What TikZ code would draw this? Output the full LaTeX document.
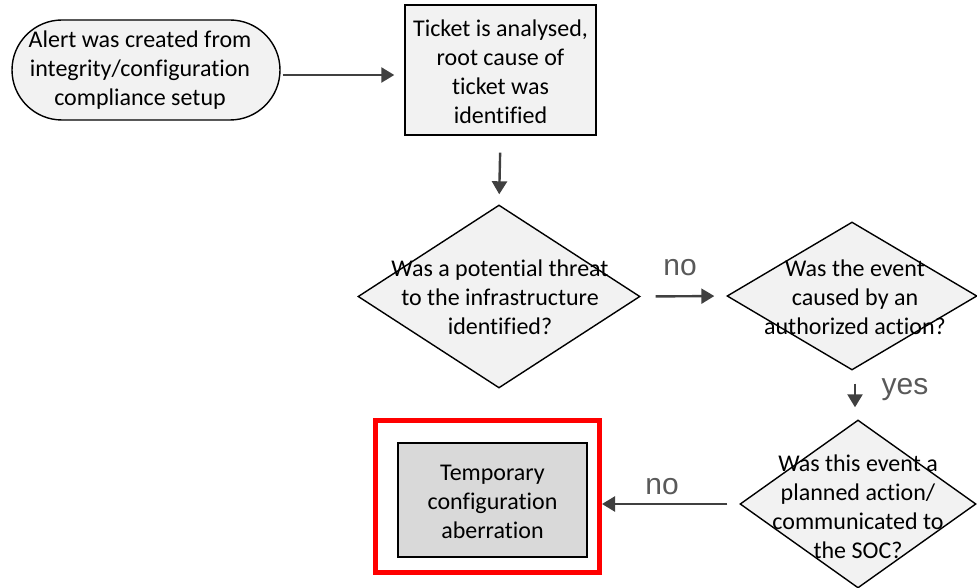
\documentclass[tikz,border=0pt]{standalone}
\usepackage{fontspec}
\setmainfont[Ligatures=NoCommon]{Carlito}
\newfontfamily\labfont{Liberation Sans}
\usetikzlibrary{shapes.geometric,shapes.misc,arrows.meta}
\definecolor{lightfill}{HTML}{F2F2F2}
\definecolor{darkfill}{HTML}{D9D9D9}
\definecolor{arrowgray}{HTML}{404040}
\definecolor{labgray}{HTML}{595959}
\definecolor{framered}{HTML}{FF0000}
\tikzset{
  txt/.style={font=\fontsize{24}{29}\selectfont, align=center, inner sep=0pt},
  terminal/.style={rounded rectangle, draw=black, line width=1.4pt, fill=lightfill, inner sep=0pt},
  procbox/.style={rectangle, draw=black, line width=1.4pt, fill=lightfill, inner sep=0pt},
  decision/.style={diamond, draw=black, line width=1.4pt, fill=lightfill, inner sep=0pt},
  flow/.style={draw=arrowgray, line width=2.4pt, -{Triangle[width=15pt,length=13pt]}},
  lab/.style={font=\labfont\fontsize{30}{32}\selectfont, text=labgray, inner sep=0pt},
}
\begin{document}
\begin{tikzpicture}[x=1pt,y=-1pt]
\useasboundingbox (0,0) rectangle (977,588);
% start terminal
\node[terminal, minimum width=268pt, minimum height=100pt] (start) at (146,70) {};
\node[txt] (starttxt) at (140,70) {Alert was created from\\integrity/configuration\\compliance setup};
% ticket box
\node[procbox, minimum width=191pt, minimum height=130pt] (ticket) at (500.5,70) {};
\node[txt] (tickettxt) at (500.5,72) {Ticket is analysed,\\root cause of\\ticket was\\identified};
% decision 1
\node[decision, minimum width=282pt, minimum height=183pt] (d1) at (499,296.5) {};
\node[txt] (d1txt) at (500,297) {Was a potential threat\\to the infrastructure\\identified?};
% decision 2
\node[decision, minimum width=250pt, minimum height=148pt] (d2) at (852,296) {};
\node[txt] (d2txt) at (855,297) {Was the event\\caused by an\\authorized action?};
% decision 3
\node[decision, minimum width=236pt, minimum height=168pt] (d3) at (858,504) {};
\node[txt] (d3txt) at (858,507) {Was this event a\\planned action/\\communicated to\\the SOC?};
% result
\node[rectangle, draw=framered, line width=5pt, minimum width=224pt, minimum height=152pt] (frame) at (487.5,496.5) {};
\node[procbox, fill=darkfill, minimum width=189pt, minimum height=114pt] (result) at (492.5,500) {};
\node[txt] (resulttxt) at (492.5,502) {Temporary\\configuration\\aberration};
% connectors
\draw[flow, shorten <=2pt, shorten >=10pt] (start.east |- 0,75) -- (ticket.west |- 0,75);
\draw[flow, shorten <=17pt, shorten >=10pt] (ticket.south) -- (d1.north);
\draw[flow, shorten <=15pt, shorten >=12pt] (d1.east) -- (d2.west);
\draw[flow, shorten <=13pt, shorten >=12pt] (d2.south -| 855,0) -- (d3.north -| 855,0);
\draw[flow, shorten <=12pt, shorten >=0pt] (d3.west) -- (frame.east |- d3.west);
% labels
\node[lab] (no1) at (680,268) {no};
\node[lab] (yes1) at (905,390) {yes};
\node[lab] (no2) at (662,487) {no};
\end{tikzpicture}
\end{document}
